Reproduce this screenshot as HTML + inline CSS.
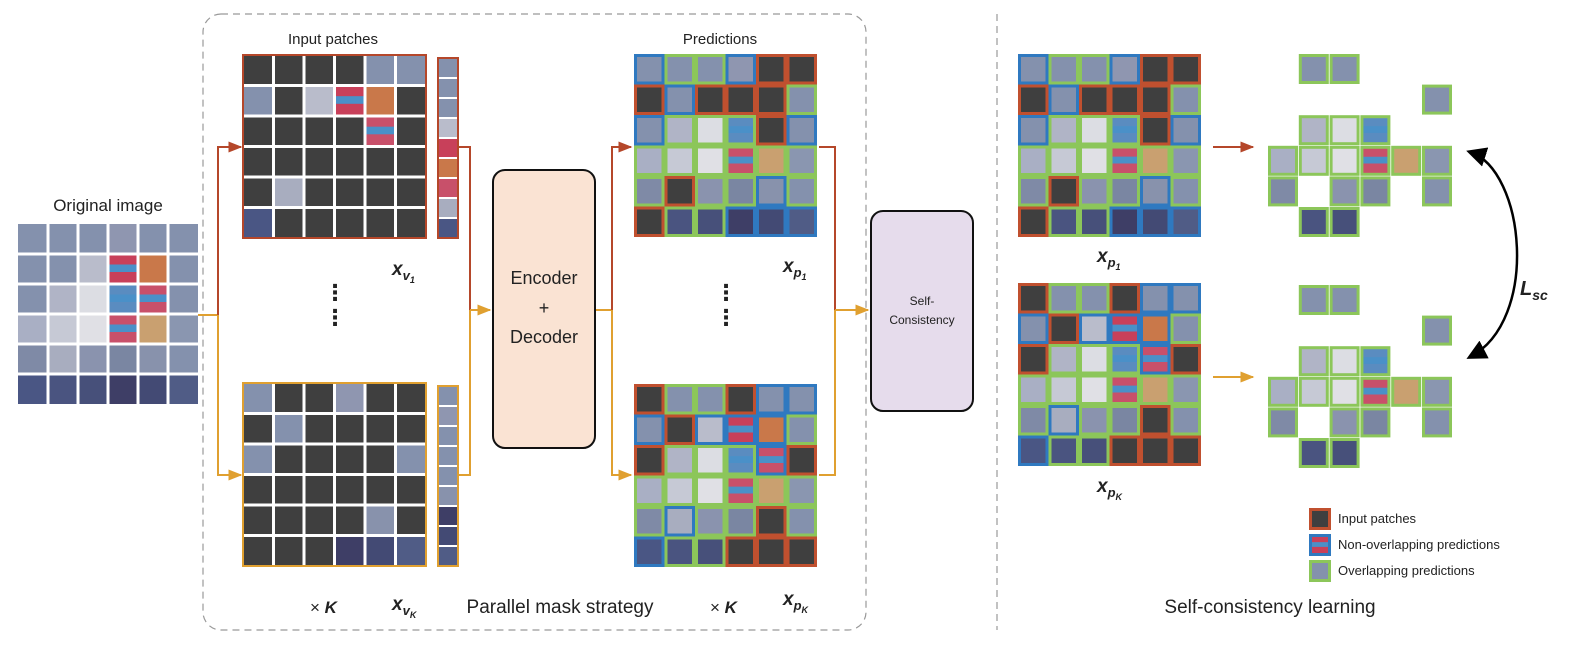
<!DOCTYPE html>
<html><head><meta charset="utf-8">
<style>
html,body{margin:0;padding:0;background:#fff;}
svg{display:block;font-family:"Liberation Sans","DejaVu Sans",sans-serif;}
</style></head>
<body>
<svg id="s" width="1582" height="646" viewBox="0 0 1582 646" xmlns="http://www.w3.org/2000/svg">
<defs>
<marker id="ar" viewBox="0 0 10 10" refX="9" refY="5" markerWidth="7" markerHeight="7" orient="auto"><path d="M0,1 L10,5 L0,9 z" fill="#b5472a"/></marker>
<marker id="ao" viewBox="0 0 10 10" refX="9" refY="5" markerWidth="7" markerHeight="7" orient="auto"><path d="M0,1 L10,5 L0,9 z" fill="#e0a030"/></marker>
<marker id="ab" viewBox="0 0 10 10" refX="8" refY="5" markerWidth="8" markerHeight="8" orient="auto"><path d="M0,0 L10,5 L0,10 z" fill="#000"/></marker>
<marker id="abs" viewBox="0 0 10 10" refX="2" refY="5" markerWidth="8" markerHeight="8" orient="auto"><path d="M10,0 L0,5 L10,10 z" fill="#000"/></marker>
</defs>
<!-- frames -->
<rect x="203" y="14" width="663" height="616" rx="18" fill="none" stroke="#999" stroke-width="1.2" stroke-dasharray="7,5"/>
<line x1="997" y1="14" x2="997" y2="630" stroke="#999" stroke-width="1.2" stroke-dasharray="7,5"/>
<g id="g"></g>
<!-- connectors -->
<g fill="none" stroke-width="2">
<path d="M198,315 H218" stroke="#e0a030"/>
<path d="M218,315 V147 H241" stroke="#b5472a" marker-end="url(#ar)"/>
<path d="M218,315 V475 H241" stroke="#e0a030" marker-end="url(#ao)"/>
<path d="M458,147 H470 V310" stroke="#b5472a"/>
<path d="M458,475 H470 V310" stroke="#e0a030"/>
<path d="M470,310 H490" stroke="#e0a030" marker-end="url(#ao)"/>
<path d="M595,310 H612" stroke="#e0a030"/>
<path d="M612,310 V147 H631" stroke="#b5472a" marker-end="url(#ar)"/>
<path d="M612,310 V475 H631" stroke="#e0a030" marker-end="url(#ao)"/>
<path d="M819,147 H835 V310" stroke="#b5472a"/>
<path d="M819,475 H835 V310" stroke="#e0a030"/>
<path d="M835,310 H868" stroke="#e0a030" marker-end="url(#ao)"/>
<path d="M1213,147 H1253" stroke="#b5472a" marker-end="url(#ar)"/>
<path d="M1213,377 H1253" stroke="#e0a030" marker-end="url(#ao)"/>
</g>
<path d="M1470,152 C1525,170 1540,320 1470,357" fill="none" stroke="#000" stroke-width="2.5" marker-end="url(#ab)" marker-start="url(#abs)"/>
<!-- boxes -->
<rect x="493" y="170" width="102" height="278" rx="12" fill="#fae3d3" stroke="#111" stroke-width="2"/>
<text x="544" y="284" font-size="18" text-anchor="middle" fill="#222">Encoder</text>
<text x="544" y="314" font-size="18" text-anchor="middle" fill="#222">+</text>
<text x="544" y="343" font-size="18" text-anchor="middle" fill="#222">Decoder</text>
<rect x="871" y="211" width="102" height="200" rx="12" fill="#e6dcec" stroke="#111" stroke-width="2"/>
<text x="922" y="305" font-size="12" text-anchor="middle" fill="#222">Self-</text>
<text x="922" y="324" font-size="12" text-anchor="middle" fill="#222">Consistency</text>
<!-- labels -->
<g fill="#222">
<text x="108" y="211" font-size="17" text-anchor="middle">Original image</text>
<text x="333" y="44" font-size="15" text-anchor="middle">Input patches</text>
<text x="720" y="44" font-size="15" text-anchor="middle">Predictions</text>
<text x="560" y="613" font-size="19" text-anchor="middle">Parallel mask strategy</text>
<text x="1270" y="613" font-size="19" text-anchor="middle">Self-consistency learning</text>
<text x="310" y="613" font-size="17">× <tspan font-weight="bold" font-style="italic">K</tspan></text>
<text x="710" y="613" font-size="17">× <tspan font-weight="bold" font-style="italic">K</tspan></text>
<g font-weight="bold" font-style="italic" font-size="19">
<text x="392" y="275">x<tspan font-size="13" dy="5">v</tspan><tspan font-size="9" dy="3">1</tspan></text>
<text x="392" y="610">x<tspan font-size="13" dy="5">v</tspan><tspan font-size="9" dy="3">K</tspan></text>
<text x="783" y="272">x<tspan font-size="13" dy="5">p</tspan><tspan font-size="9" dy="3">1</tspan></text>
<text x="783" y="605">x<tspan font-size="13" dy="5">p</tspan><tspan font-size="9" dy="3">K</tspan></text>
<text x="1097" y="262">x<tspan font-size="13" dy="5">p</tspan><tspan font-size="9" dy="3">1</tspan></text>
<text x="1097" y="492">x<tspan font-size="13" dy="5">p</tspan><tspan font-size="9" dy="3">K</tspan></text>
<text x="1520" y="295" font-size="20">L<tspan font-size="14" dy="5">sc</tspan></text>
</g>
<g font-size="13">
<text x="1338" y="523">Input patches</text>
<text x="1338" y="549">Non-overlapping predictions</text>
<text x="1338" y="575">Overlapping predictions</text>
</g>
</g>
<g font-size="22" font-weight="bold" fill="#222" text-anchor="middle">
<text x="335" y="300">⋮</text><text x="335" y="325">⋮</text>
<text x="726" y="300">⋮</text><text x="726" y="325">⋮</text>
</g>
</svg>
<script>
const NS="http://www.w3.org/2000/svg",G=document.getElementById('g');
function R(x,y,w,h,f,st,sw){const r=document.createElementNS(NS,'rect');r.setAttribute('x',x);r.setAttribute('y',y);r.setAttribute('width',w);r.setAttribute('height',h);r.setAttribute('fill',f||'none');if(st){r.setAttribute('stroke',st);r.setAttribute('stroke-width',sw||2);}G.appendChild(r);return r;}
const SEA='#8491ad',DK='#3f3f3f';
const IMG=[
[SEA,SEA,SEA,'#8f96b0',SEA,SEA],
[SEA,SEA,'#b9bccb','#c8405a','#c9784a',SEA],
[SEA,'#b0b4c6','#dcdde3','#5a8cc0','#c8506a',SEA],
['#a9afc4','#c6c9d5','#e0e0e5','#c8506a','#c9a070','#8a96b0'],
['#7f8aa6','#a8adbf','#8a93ae','#7a86a2','#8892ac',SEA],
['#4a5684','#4a5480','#47507a','#3e3e66','#434a74','#505c86']];
function patch(x,y,s,r,c){R(x,y,s,s,IMG[r][c]);
 if(IMG[r][c]=='#c8405a'||IMG[r][c]=='#5a8cc0'||IMG[r][c]=='#c8506a'){R(x,y+s*0.35,s,s*0.25,'#4a90c8');}
}
// original image
{const x0=18,y0=224,s=30;for(let r=0;r<6;r++)for(let c=0;c<6;c++)patch(x0+c*s,y0+r*s,s,r,c);
 for(let i=1;i<6;i++){R(x0+i*s-1.5,y0,3,180,'#fff');R(x0,y0+i*s-1.5,180,3,'#fff');}}
function inGrid(x0,y0,mask,col){const s=30.5;R(x0,y0,183,183,DK);
 for(let r=0;r<6;r++)for(let c=0;c<6;c++)if(mask[r][c])patch(x0+c*s,y0+r*s,s,r,c);
 for(let i=1;i<6;i++){R(x0+i*s-1.5,y0,3,183,'#fff');R(x0,y0+i*s-1.5,183,3,'#fff');}
 R(x0,y0,183,183,null,col,2);}
function strip(x0,y0,mask,col){const list=[];for(let r=0;r<6;r++)for(let c=0;c<6;c++)if(mask[r][c])list.push([r,c]);
 const h=180/list.length;list.forEach((p,i)=>{patch(x0,y0+i*h,20,p[0],p[1]);R(x0,y0+i*h,20,h,IMG[p[0]][p[1]]);if(i)R(x0,y0+i*h-1,20,2,'#fff');});
 R(x0,y0,20,180,null,col,2);}
const M1=[[0,0,0,0,1,1],[1,0,1,1,1,0],[0,0,0,0,1,0],[0,0,0,0,0,0],[0,1,0,0,0,0],[1,0,0,0,0,0]];
const MK=[[1,0,0,1,0,0],[0,1,0,0,0,0],[1,0,0,0,0,1],[0,0,0,0,0,0],[0,0,0,0,1,0],[0,0,0,1,1,1]];
inGrid(243,55,M1,'#b5472a');strip(438,58,M1,'#b5472a');
inGrid(243,383,MK,'#e0a030');strip(438,386,MK,'#e0a030');
const BC={r:'#c0502f',b:'#2f79c0',g:'#8cc65a'};
function cell(x,y,s,t,r,c){R(x,y,s,s,'#fff');if(t=='r')R(x+1.5,y+1.5,s-3,s-3,DK,BC.r,3);else{patch(x+1.5,y+1.5,s-3,r,c);R(x+1.5,y+1.5,s-3,s-3,null,BC[t],3);}}
const P1=['bggbrr','rbrrrg','bgggrb','gggggg','grggbg','rggbbb'];
const PK=['rggrbb','brbbbg','rgggbr','gggggg','gbggrg','bggrrr'];
function pGrid(x0,y0,P){const s=30.5;for(let r=0;r<6;r++)for(let c=0;c<6;c++)cell(x0+c*s,y0+r*s,s,P[r][c],r,c);}
pGrid(634,54,P1);pGrid(634,384,PK);pGrid(1018,54,P1);pGrid(1018,283,PK);
const SP=[[1,2],[5],[1,2,3],[0,1,2,3,4,5],[0,2,3,5],[1,2]];
function sparse(x0,y0){const sx=30.8,sy=30.6;SP.forEach((cs,r)=>cs.forEach(c=>cell(x0+c*sx,y0+r*sy,30,'g',r,c)));}
sparse(1268,54);sparse(1268,285);
cell(1309,508,22,'r',0,0);cell(1309,534,22,'b',1,3);cell(1309,560,22,'g',0,0);
</script>
</body></html>
